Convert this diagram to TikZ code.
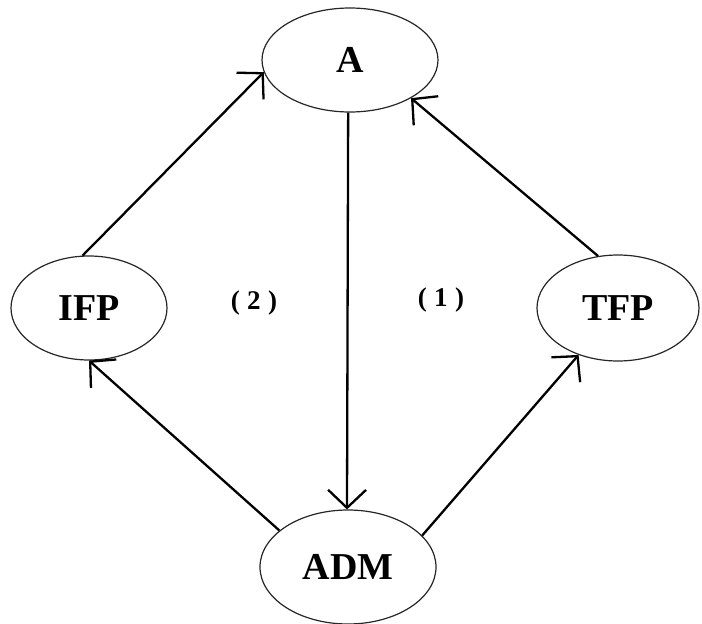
\documentclass[tikz,border=0pt]{standalone}
\usepackage{fontspec}
\setmainfont{Liberation Serif}
\usetikzlibrary{shapes.geometric,arrows.meta}
\tikzstyle{state} = [ellipse, draw=black!85, line width=1.2pt, inner sep=0pt, font=\fontsize{38}{40}\selectfont\bfseries]
\tikzstyle{flow} = [line width=2.3pt, -{Straight Barb[length=18pt,width=38pt,line width=2.3pt]}]
\tikzstyle{region} = [font=\fontsize{27}{29}\selectfont\bfseries]

\begin{document}
\begin{tikzpicture}[x=1pt, y=-1pt]
  \useasboundingbox (0,0) rectangle (702,624);

  \node[state, minimum width=176pt, minimum height=104pt] (a) at (350,60) {A};
  \node[state, minimum width=156pt, minimum height=104pt] (ifp) at (89,308) {IFP};
  \node[state, minimum width=162pt, minimum height=106pt] (tfp) at (618,308) {TFP};
  \node[state, minimum width=176pt, minimum height=114pt] (adm) at (348,567) {ADM};

  \node[region] (r2) at (254,303) {(\;2\;)};
  \node[region] (r1) at (441,300) {(\;1\;)};

  \draw[flow] (a.268) -- (adm.91);
  \draw[flow] (ifp.97) -- (a.188);
  \draw[flow] (tfp.111) -- (a.328);
  \draw[flow] (adm.152) -- (ifp.270);
  \draw[flow] (adm.23) -- (tfp.230);

\end{tikzpicture}
\end{document}
